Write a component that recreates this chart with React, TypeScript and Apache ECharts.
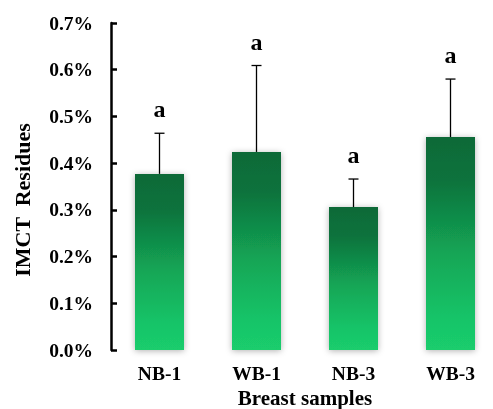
import React, { useEffect, useRef } from "react";
import * as echarts from "echarts";

const categories = ["NB-1", "WB-1", "NB-3", "WB-3"];
const means = [0.377, 0.424, 0.306, 0.456];
const errorTops = [0.464, 0.609, 0.366, 0.58];
const letters = ["a", "a", "a", "a"];
const yTicks = { min: 0, max: 0.7, interval: 0.1 };

const FONT = "'Liberation Serif', 'Times New Roman', serif";

export default function App() {
  const ref = useRef<HTMLDivElement>(null);
  useEffect(() => {
    if (!ref.current) return;
    const chart = echarts.init(ref.current, undefined, { renderer: "svg" });
    const errData = categories.map((_, i) => [i, means[i], errorTops[i]]);
    chart.setOption({
      animation: false,
      grid: {
        left: 111,
        top: 23,
        bottom: 59,
        right: -6,
        containLabel: false,
        outerBoundsMode: "none",
      },
      xAxis: {
        type: "category",
        data: categories,
        axisTick: { show: false },
        axisLine: {
          show: true,
          lineStyle: {
            color: "#000",
            width: 2.5,
            shadowColor: "rgba(0,0,0,0.35)",
            shadowBlur: 3,
            shadowOffsetY: 2,
          },
        },
        axisLabel: {
          color: "#000",
          fontFamily: FONT,
          fontWeight: "bold",
          fontSize: 19.5,
          margin: 13,
        },
        name: "Breast samples",
        nameLocation: "middle",
        nameGap: 35,
        nameTextStyle: {
          color: "#000",
          fontFamily: FONT,
          fontWeight: "bold",
          fontSize: 21,
          lineHeight: 21,
        },
      },
      yAxis: {
        type: "value",
        min: yTicks.min,
        max: yTicks.max,
        interval: yTicks.interval,
        splitLine: { show: false },
        axisLine: { show: true, lineStyle: { color: "#000", width: 2.5 } },
        axisTick: {
          show: true,
          inside: true,
          length: 6,
          lineStyle: { color: "#000", width: 2.5 },
        },
        axisLabel: {
          color: "#000",
          fontFamily: FONT,
          fontWeight: "bold",
          fontSize: 19.5,
          margin: 18,
          formatter: (v: number) => v.toFixed(1) + "%",
        },
      },
      graphic: [
        {
          type: "text",
          x: 22.5,
          y: 200,
          rotation: Math.PI / 2,
          style: {
            text: "IMCT  Residues",
            fill: "#000",
            font: `bold 22px ${FONT}`,
            textAlign: "center",
            textVerticalAlign: "middle",
          },
        },
      ],
      series: [
        {
          type: "bar",
          data: means,
          barWidth: 49,
          itemStyle: {
            color: new echarts.graphic.LinearGradient(0, 0, 0, 1, [
              { offset: 0, color: "#0c6a38" },
              { offset: 0.2, color: "#0e723c" },
              { offset: 0.55, color: "#13a656" },
              { offset: 0.85, color: "#18c468" },
              { offset: 1, color: "#1acd6d" },
            ]),
            shadowColor: "rgba(0,0,0,0.3)",
            shadowBlur: 6,
            shadowOffsetY: 1,
          },
          z: 2,
        },
        {
          type: "custom",
          data: errData,
          z: 3,
          renderItem: (params: any, api: any) => {
            const i = api.value(0);
            const lo = api.coord([i, api.value(1)]);
            const hi = api.coord([i, api.value(2)]);
            const cap = 5;
            return {
              type: "group",
              children: [
                {
                  type: "line",
                  shape: { x1: lo[0], y1: lo[1], x2: hi[0], y2: hi[1] },
                  style: { stroke: "#000", lineWidth: 1.3 },
                },
                {
                  type: "line",
                  shape: { x1: hi[0] - cap, y1: hi[1], x2: hi[0] + cap, y2: hi[1] },
                  style: { stroke: "#000", lineWidth: 1.3 },
                },
                {
                  type: "text",
                  x: hi[0],
                  y: hi[1] - 24,
                  style: {
                    text: letters[params.dataIndex],
                    fill: "#000",
                    font: `bold 24px ${FONT}`,
                    textAlign: "center",
                    textVerticalAlign: "middle",
                  },
                },
              ],
            };
          },
        },
      ],
    });
    return () => chart.dispose();
  }, []);
  return (
    <div
      ref={ref}
      style={{ position: "fixed", left: 0, top: 0, width: 493, height: 409 }}
    />
  );
}
